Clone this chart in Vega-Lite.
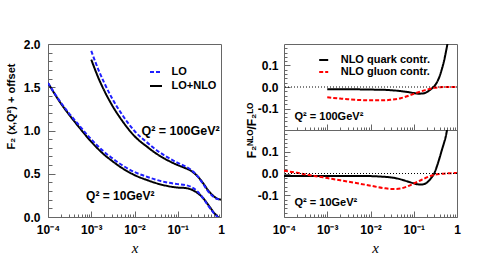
{
  "$schema": "https://vega.github.io/schema/vega-lite/v6.json",
  "padding": {"left": 4, "top": 37, "right": 2, "bottom": 2},
  "config": {
    "view": {"stroke": "#666", "strokeWidth": 1},
    "font": "Liberation Sans",
    "axis": {"grid": false, "domain": false, "labelFont": "Liberation Sans", "labelFontWeight": "bold", "labelFontSize": 12, "labelColor": "black", "tickColor": "#666", "titleFont": "Liberation Sans", "titleFontWeight": "bold", "titleFontSize": 12, "titleColor": "black", "labelOverlap": false, "labelFlush": false},
    "legend": {"padding": 0, "titlePadding": 0}
  },
  "datasets": {
    "f2": [
      {"x": 0.0001, "F": 1.55, "type": "LO+NLO", "q2": "10"},
      {"x": 0.0002, "F": 1.31, "type": "LO+NLO", "q2": "10"},
      {"x": 0.0003, "F": 1.19, "type": "LO+NLO", "q2": "10"},
      {"x": 0.0005, "F": 1.05, "type": "LO+NLO", "q2": "10"},
      {"x": 0.001, "F": 0.87, "type": "LO+NLO", "q2": "10"},
      {"x": 0.002, "F": 0.72, "type": "LO+NLO", "q2": "10"},
      {"x": 0.003, "F": 0.65, "type": "LO+NLO", "q2": "10"},
      {"x": 0.005, "F": 0.57, "type": "LO+NLO", "q2": "10"},
      {"x": 0.01, "F": 0.485, "type": "LO+NLO", "q2": "10"},
      {"x": 0.02, "F": 0.425, "type": "LO+NLO", "q2": "10"},
      {"x": 0.03, "F": 0.395, "type": "LO+NLO", "q2": "10"},
      {"x": 0.05, "F": 0.365, "type": "LO+NLO", "q2": "10"},
      {"x": 0.1, "F": 0.34, "type": "LO+NLO", "q2": "10"},
      {"x": 0.15, "F": 0.335, "type": "LO+NLO", "q2": "10"},
      {"x": 0.2, "F": 0.32, "type": "LO+NLO", "q2": "10"},
      {"x": 0.3, "F": 0.27, "type": "LO+NLO", "q2": "10"},
      {"x": 0.4, "F": 0.21, "type": "LO+NLO", "q2": "10"},
      {"x": 0.5, "F": 0.145, "type": "LO+NLO", "q2": "10"},
      {"x": 0.6, "F": 0.09, "type": "LO+NLO", "q2": "10"},
      {"x": 0.7, "F": 0.045, "type": "LO+NLO", "q2": "10"},
      {"x": 0.8, "F": 0.015, "type": "LO+NLO", "q2": "10"},
      {"x": 0.9, "F": -0.01, "type": "LO+NLO", "q2": "10"},
      {"x": 1, "F": -0.03, "type": "LO+NLO", "q2": "10"},
      {"x": 0.0001, "F": 1.55, "type": "LO", "q2": "10"},
      {"x": 0.0002, "F": 1.32, "type": "LO", "q2": "10"},
      {"x": 0.0003, "F": 1.205, "type": "LO", "q2": "10"},
      {"x": 0.0005, "F": 1.072, "type": "LO", "q2": "10"},
      {"x": 0.001, "F": 0.898, "type": "LO", "q2": "10"},
      {"x": 0.002, "F": 0.752, "type": "LO", "q2": "10"},
      {"x": 0.003, "F": 0.683, "type": "LO", "q2": "10"},
      {"x": 0.005, "F": 0.604, "type": "LO", "q2": "10"},
      {"x": 0.01, "F": 0.52, "type": "LO", "q2": "10"},
      {"x": 0.02, "F": 0.463, "type": "LO", "q2": "10"},
      {"x": 0.03, "F": 0.434, "type": "LO", "q2": "10"},
      {"x": 0.05, "F": 0.405, "type": "LO", "q2": "10"},
      {"x": 0.1, "F": 0.38, "type": "LO", "q2": "10"},
      {"x": 0.15, "F": 0.37, "type": "LO", "q2": "10"},
      {"x": 0.2, "F": 0.35, "type": "LO", "q2": "10"},
      {"x": 0.3, "F": 0.285, "type": "LO", "q2": "10"},
      {"x": 0.4, "F": 0.205, "type": "LO", "q2": "10"},
      {"x": 0.5, "F": 0.135, "type": "LO", "q2": "10"},
      {"x": 0.6, "F": 0.08, "type": "LO", "q2": "10"},
      {"x": 0.7, "F": 0.038, "type": "LO", "q2": "10"},
      {"x": 0.8, "F": 0.008, "type": "LO", "q2": "10"},
      {"x": 0.9, "F": -0.015, "type": "LO", "q2": "10"},
      {"x": 1, "F": -0.035, "type": "LO", "q2": "10"},
      {"x": 0.001, "F": 1.82, "type": "LO+NLO", "q2": "100"},
      {"x": 0.0015, "F": 1.595, "type": "LO+NLO", "q2": "100"},
      {"x": 0.002, "F": 1.46, "type": "LO+NLO", "q2": "100"},
      {"x": 0.003, "F": 1.296, "type": "LO+NLO", "q2": "100"},
      {"x": 0.005, "F": 1.124, "type": "LO+NLO", "q2": "100"},
      {"x": 0.01, "F": 0.935, "type": "LO+NLO", "q2": "100"},
      {"x": 0.02, "F": 0.808, "type": "LO+NLO", "q2": "100"},
      {"x": 0.03, "F": 0.742, "type": "LO+NLO", "q2": "100"},
      {"x": 0.05, "F": 0.674, "type": "LO+NLO", "q2": "100"},
      {"x": 0.1, "F": 0.6, "type": "LO+NLO", "q2": "100"},
      {"x": 0.15, "F": 0.565, "type": "LO+NLO", "q2": "100"},
      {"x": 0.2, "F": 0.535, "type": "LO+NLO", "q2": "100"},
      {"x": 0.3, "F": 0.46, "type": "LO+NLO", "q2": "100"},
      {"x": 0.4, "F": 0.38, "type": "LO+NLO", "q2": "100"},
      {"x": 0.5, "F": 0.31, "type": "LO+NLO", "q2": "100"},
      {"x": 0.6, "F": 0.265, "type": "LO+NLO", "q2": "100"},
      {"x": 0.7, "F": 0.235, "type": "LO+NLO", "q2": "100"},
      {"x": 0.8, "F": 0.215, "type": "LO+NLO", "q2": "100"},
      {"x": 0.9, "F": 0.205, "type": "LO+NLO", "q2": "100"},
      {"x": 1, "F": 0.2, "type": "LO+NLO", "q2": "100"},
      {"x": 0.001, "F": 1.92, "type": "LO", "q2": "100"},
      {"x": 0.0015, "F": 1.69, "type": "LO", "q2": "100"},
      {"x": 0.002, "F": 1.55, "type": "LO", "q2": "100"},
      {"x": 0.003, "F": 1.376, "type": "LO", "q2": "100"},
      {"x": 0.005, "F": 1.195, "type": "LO", "q2": "100"},
      {"x": 0.01, "F": 0.994, "type": "LO", "q2": "100"},
      {"x": 0.02, "F": 0.857, "type": "LO", "q2": "100"},
      {"x": 0.03, "F": 0.785, "type": "LO", "q2": "100"},
      {"x": 0.05, "F": 0.71, "type": "LO", "q2": "100"},
      {"x": 0.1, "F": 0.626, "type": "LO", "q2": "100"},
      {"x": 0.15, "F": 0.585, "type": "LO", "q2": "100"},
      {"x": 0.2, "F": 0.548, "type": "LO", "q2": "100"},
      {"x": 0.3, "F": 0.46, "type": "LO", "q2": "100"},
      {"x": 0.4, "F": 0.371, "type": "LO", "q2": "100"},
      {"x": 0.5, "F": 0.298, "type": "LO", "q2": "100"},
      {"x": 0.6, "F": 0.254, "type": "LO", "q2": "100"},
      {"x": 0.7, "F": 0.2265, "type": "LO", "q2": "100"},
      {"x": 0.8, "F": 0.21, "type": "LO", "q2": "100"},
      {"x": 0.9, "F": 0.2035, "type": "LO", "q2": "100"},
      {"x": 1, "F": 0.2, "type": "LO", "q2": "100"}
    ],
    "ratio": [
      {"x": 0.001, "r": -0.011, "c": "NLO quark contr.", "q2": "100"},
      {"x": 0.002, "r": -0.011, "c": "NLO quark contr.", "q2": "100"},
      {"x": 0.005, "r": -0.011, "c": "NLO quark contr.", "q2": "100"},
      {"x": 0.01, "r": -0.012, "c": "NLO quark contr.", "q2": "100"},
      {"x": 0.02, "r": -0.013, "c": "NLO quark contr.", "q2": "100"},
      {"x": 0.03, "r": -0.015, "c": "NLO quark contr.", "q2": "100"},
      {"x": 0.05, "r": -0.019, "c": "NLO quark contr.", "q2": "100"},
      {"x": 0.07, "r": -0.023, "c": "NLO quark contr.", "q2": "100"},
      {"x": 0.1, "r": -0.028, "c": "NLO quark contr.", "q2": "100"},
      {"x": 0.13, "r": -0.031, "c": "NLO quark contr.", "q2": "100"},
      {"x": 0.16, "r": -0.03, "c": "NLO quark contr.", "q2": "100"},
      {"x": 0.2, "r": -0.024, "c": "NLO quark contr.", "q2": "100"},
      {"x": 0.25, "r": -0.01, "c": "NLO quark contr.", "q2": "100"},
      {"x": 0.3, "r": 0.004, "c": "NLO quark contr.", "q2": "100"},
      {"x": 0.35, "r": 0.025, "c": "NLO quark contr.", "q2": "100"},
      {"x": 0.4, "r": 0.052, "c": "NLO quark contr.", "q2": "100"},
      {"x": 0.45, "r": 0.085, "c": "NLO quark contr.", "q2": "100"},
      {"x": 0.5, "r": 0.12, "c": "NLO quark contr.", "q2": "100"},
      {"x": 0.55, "r": 0.16, "c": "NLO quark contr.", "q2": "100"},
      {"x": 0.6, "r": 0.2, "c": "NLO quark contr.", "q2": "100"},
      {"x": 0.65, "r": 0.25, "c": "NLO quark contr.", "q2": "100"},
      {"x": 0.001, "r": -0.048, "c": "NLO gluon contr.", "q2": "100"},
      {"x": 0.002, "r": -0.054, "c": "NLO gluon contr.", "q2": "100"},
      {"x": 0.003, "r": -0.057, "c": "NLO gluon contr.", "q2": "100"},
      {"x": 0.005, "r": -0.06, "c": "NLO gluon contr.", "q2": "100"},
      {"x": 0.01, "r": -0.062, "c": "NLO gluon contr.", "q2": "100"},
      {"x": 0.02, "r": -0.062, "c": "NLO gluon contr.", "q2": "100"},
      {"x": 0.03, "r": -0.059, "c": "NLO gluon contr.", "q2": "100"},
      {"x": 0.05, "r": -0.052, "c": "NLO gluon contr.", "q2": "100"},
      {"x": 0.07, "r": -0.043, "c": "NLO gluon contr.", "q2": "100"},
      {"x": 0.1, "r": -0.032, "c": "NLO gluon contr.", "q2": "100"},
      {"x": 0.15, "r": -0.02, "c": "NLO gluon contr.", "q2": "100"},
      {"x": 0.2, "r": -0.012, "c": "NLO gluon contr.", "q2": "100"},
      {"x": 0.3, "r": -0.004, "c": "NLO gluon contr.", "q2": "100"},
      {"x": 0.4, "r": -0.001, "c": "NLO gluon contr.", "q2": "100"},
      {"x": 0.6, "r": 0.0, "c": "NLO gluon contr.", "q2": "100"},
      {"x": 1, "r": 0.0, "c": "NLO gluon contr.", "q2": "100"},
      {"x": 0.0001, "r": -0.011, "c": "NLO quark contr.", "q2": "10"},
      {"x": 0.001, "r": -0.011, "c": "NLO quark contr.", "q2": "10"},
      {"x": 0.003, "r": -0.011, "c": "NLO quark contr.", "q2": "10"},
      {"x": 0.01, "r": -0.012, "c": "NLO quark contr.", "q2": "10"},
      {"x": 0.02, "r": -0.015, "c": "NLO quark contr.", "q2": "10"},
      {"x": 0.03, "r": -0.018, "c": "NLO quark contr.", "q2": "10"},
      {"x": 0.05, "r": -0.027, "c": "NLO quark contr.", "q2": "10"},
      {"x": 0.07, "r": -0.036, "c": "NLO quark contr.", "q2": "10"},
      {"x": 0.1, "r": -0.045, "c": "NLO quark contr.", "q2": "10"},
      {"x": 0.13, "r": -0.05, "c": "NLO quark contr.", "q2": "10"},
      {"x": 0.16, "r": -0.05, "c": "NLO quark contr.", "q2": "10"},
      {"x": 0.2, "r": -0.042, "c": "NLO quark contr.", "q2": "10"},
      {"x": 0.25, "r": -0.022, "c": "NLO quark contr.", "q2": "10"},
      {"x": 0.3, "r": 0.002, "c": "NLO quark contr.", "q2": "10"},
      {"x": 0.35, "r": 0.038, "c": "NLO quark contr.", "q2": "10"},
      {"x": 0.4, "r": 0.075, "c": "NLO quark contr.", "q2": "10"},
      {"x": 0.45, "r": 0.11, "c": "NLO quark contr.", "q2": "10"},
      {"x": 0.5, "r": 0.14, "c": "NLO quark contr.", "q2": "10"},
      {"x": 0.55, "r": 0.17, "c": "NLO quark contr.", "q2": "10"},
      {"x": 0.6, "r": 0.21, "c": "NLO quark contr.", "q2": "10"},
      {"x": 0.65, "r": 0.25, "c": "NLO quark contr.", "q2": "10"},
      {"x": 0.0001, "r": 0.013, "c": "NLO gluon contr.", "q2": "10"},
      {"x": 0.0002, "r": 0.003, "c": "NLO gluon contr.", "q2": "10"},
      {"x": 0.0003, "r": -0.003, "c": "NLO gluon contr.", "q2": "10"},
      {"x": 0.0005, "r": -0.011, "c": "NLO gluon contr.", "q2": "10"},
      {"x": 0.001, "r": -0.021, "c": "NLO gluon contr.", "q2": "10"},
      {"x": 0.002, "r": -0.031, "c": "NLO gluon contr.", "q2": "10"},
      {"x": 0.003, "r": -0.037, "c": "NLO gluon contr.", "q2": "10"},
      {"x": 0.005, "r": -0.045, "c": "NLO gluon contr.", "q2": "10"},
      {"x": 0.01, "r": -0.056, "c": "NLO gluon contr.", "q2": "10"},
      {"x": 0.02, "r": -0.067, "c": "NLO gluon contr.", "q2": "10"},
      {"x": 0.03, "r": -0.071, "c": "NLO gluon contr.", "q2": "10"},
      {"x": 0.04, "r": -0.071, "c": "NLO gluon contr.", "q2": "10"},
      {"x": 0.05, "r": -0.069, "c": "NLO gluon contr.", "q2": "10"},
      {"x": 0.07, "r": -0.06, "c": "NLO gluon contr.", "q2": "10"},
      {"x": 0.1, "r": -0.046, "c": "NLO gluon contr.", "q2": "10"},
      {"x": 0.15, "r": -0.03, "c": "NLO gluon contr.", "q2": "10"},
      {"x": 0.2, "r": -0.018, "c": "NLO gluon contr.", "q2": "10"},
      {"x": 0.3, "r": -0.006, "c": "NLO gluon contr.", "q2": "10"},
      {"x": 0.4, "r": -0.002, "c": "NLO gluon contr.", "q2": "10"},
      {"x": 0.6, "r": 0.001, "c": "NLO gluon contr.", "q2": "10"},
      {"x": 1, "r": 0.002, "c": "NLO gluon contr.", "q2": "10"}
    ]
  },
  "hconcat": [
    {
      "width": 173,
      "height": 173,
      "resolve": {"axis": {"x": "independent", "y": "independent"}},
      "layer": [
        {
          "data": {"name": "f2"},
          "mark": {"type": "line", "strokeWidth": 2, "clip": true, "interpolate": "monotone"},
          "encoding": {
            "x": {"field": "x", "type": "quantitative", "scale": {"type": "log", "domain": [0.0001, 1]},
              "axis": {"orient": "bottom", "values": [0.0001, 0.001, 0.01, 0.1, 1],
                "labelExpr": "datum.value==1?'1':datum.value==0.1?'10⁻¹':datum.value==0.01?'10⁻²':datum.value==0.001?'10⁻³':'10⁻⁴'",
                "labelOverlap": false, "tickSize": -6, "labelPadding": 13,
                "title": "x", "titleFont": "Liberation Serif", "titleFontStyle": "italic", "titleFontWeight": "normal", "titleFontSize": 15, "titlePadding": 5}},
            "y": {"field": "F", "type": "quantitative", "scale": {"domain": [0, 2]},
              "axis": {"orient": "left", "values": [0, 0.5, 1, 1.5, 2], "format": ".1f",
                "labelOverlap": false, "tickSize": -7, "labelPadding": 15,
                "title": "F₂ (x,Q²) + offset", "titleFontSize": 11, "titleX": -32, "titleY": 62}},
            "color": {"field": "type", "type": "nominal", "scale": {"domain": ["LO", "LO+NLO"], "range": ["#1f1fff", "#000000"]},
              "legend": {"orient": "none", "legendX": 99.5, "legendY": 19.5, "title": null, "symbolType": "M-0.8,0H0.8", "symbolSize": 225, "symbolStrokeWidth": 2, "labelFontWeight": "bold", "labelFontSize": 11, "labelFont": "Liberation Sans", "rowPadding": 0, "labelOffset": 7}},
            "strokeDash": {"field": "type", "type": "nominal", "scale": {"domain": ["LO", "LO+NLO"], "range": [[4, 2], [1, 0]]},
              "legend": {"orient": "none", "legendX": 99.5, "legendY": 19.5, "title": null, "symbolType": "M-0.8,0H0.8", "symbolSize": 225, "symbolStrokeWidth": 2, "labelFontWeight": "bold", "labelFontSize": 11, "labelFont": "Liberation Sans", "rowPadding": 0, "labelOffset": 7}},
            "detail": {"field": "q2", "type": "nominal"}
          }
        },
        {
          "data": {"values": [{}]},
          "mark": {"type": "text", "align": "right", "baseline": "middle", "fontWeight": "bold", "fontSize": 12.5},
          "encoding": {
            "x": {"datum": 0.93, "type": "quantitative", "axis": {"orient": "bottom", "values": [0.0002,0.0003,0.0004,0.0005,0.0006,0.0007,0.0008,0.0009,0.002,0.003,0.004,0.005,0.006,0.007,0.008,0.009,0.02,0.03,0.04,0.05,0.06,0.07,0.08,0.09,0.2,0.3,0.4,0.5,0.6,0.7,0.8,0.9], "labels": false, "title": null, "tickSize": -3}},
            "y": {"datum": 0.99, "type": "quantitative", "axis": {"orient": "left", "values": [0.1,0.2,0.3,0.4,0.6,0.7,0.8,0.9,1.1,1.2,1.3,1.4,1.6,1.7,1.8,1.9], "labels": false, "title": null, "tickSize": -4}},
            "text": {"value": "Q² = 100GeV²"}}
        },
        {
          "data": {"values": [{}]},
          "mark": {"type": "text", "align": "left", "baseline": "middle", "fontWeight": "bold", "fontSize": 12},
          "encoding": {"x": {"datum": 0.00076, "type": "quantitative", "axis": null}, "y": {"datum": 0.24, "type": "quantitative", "axis": null}, "text": {"value": "Q² = 10GeV²"}}
        }
      ]
    },
    {
      "spacing": 0,
      "bounds": "flush",
      "vconcat": [
        {
          "width": 173,
          "height": 86,
          "resolve": {"axis": {"x": "independent", "y": "independent"}},
          "layer": [
            {
              "data": {"name": "ratio"},
              "transform": [{"filter": "datum.q2 == '100'"}],
              "mark": {"type": "line", "strokeWidth": 2, "clip": true, "interpolate": "monotone"},
              "encoding": {
                "x": {"field": "x", "type": "quantitative", "scale": {"type": "log", "domain": [0.0001, 1]},
                  "axis": {"orient": "bottom", "values": [0.0001, 0.001, 0.01, 0.1, 1], "labels": false, "title": null, "tickSize": -6}},
                "y": {"field": "r", "type": "quantitative", "scale": {"domain": [-0.2, 0.2]},
                  "axis": {"orient": "left", "values": [-0.1, 0, 0.1],
                    "labelExpr": "datum.value > 0.05 ? '0.1' : datum.value < -0.05 ? '-0.1' : '0.0'",
                    "labelOverlap": false, "tickSize": -6, "labelPadding": 12,
                    "title": "F₂ᴺᴸᴼ/F₂ᴸᴼ", "titleX": -26, "titleY": 86}},
                "color": {"field": "c", "type": "nominal", "scale": {"domain": ["NLO quark contr.", "NLO gluon contr."], "range": ["#000000", "#ff0000"]},
                  "legend": {"orient": "none", "legendX": 32.7, "legendY": 9, "title": null, "symbolType": "M-0.75,0H0.75", "symbolSize": 144, "symbolStrokeWidth": 2, "labelFontWeight": "bold", "labelFontSize": 11, "labelFont": "Liberation Sans", "rowPadding": 0, "labelOffset": 10}},
                "strokeDash": {"field": "c", "type": "nominal", "scale": {"domain": ["NLO quark contr.", "NLO gluon contr."], "range": [[1, 0], [4, 2]]},
                  "legend": {"orient": "none", "legendX": 32.7, "legendY": 9, "title": null, "symbolType": "M-0.75,0H0.75", "symbolSize": 144, "symbolStrokeWidth": 2, "labelFontWeight": "bold", "labelFontSize": 11, "labelFont": "Liberation Sans", "rowPadding": 0, "labelOffset": 10}}
              }
            },
            {
              "data": {"values": [{}]},
              "mark": {"type": "rule", "strokeDash": [1, 2], "color": "black", "strokeWidth": 1},
              "encoding": {"y": {"datum": 0, "type": "quantitative", "axis": null}}
            },
            {
              "data": {"values": [{}]},
              "mark": {"type": "text", "align": "left", "baseline": "middle", "fontWeight": "bold", "fontSize": 11},
              "encoding": {
                "x": {"datum": 0.000175, "type": "quantitative", "axis": {"orient": "bottom", "values": [0.0002,0.0003,0.0004,0.0005,0.0006,0.0007,0.0008,0.0009,0.002,0.003,0.004,0.005,0.006,0.007,0.008,0.009,0.02,0.03,0.04,0.05,0.06,0.07,0.08,0.09,0.2,0.3,0.4,0.5,0.6,0.7,0.8,0.9], "labels": false, "title": null, "tickSize": -3}},
                "y": {"datum": -0.138, "type": "quantitative", "axis": {"orient": "left", "values": [-0.18,-0.16,-0.14,-0.12,-0.08,-0.06,-0.04,-0.02,0.02,0.04,0.06,0.08,0.12,0.14,0.16,0.18], "labels": false, "title": null, "tickSize": -3}},
                "text": {"value": "Q² = 100GeV²"}}
            }
          ]
        },
        {
          "width": 173,
          "height": 87,
          "resolve": {"axis": {"x": "independent", "y": "independent"}},
          "layer": [
            {
              "data": {"name": "ratio"},
              "transform": [{"filter": "datum.q2 == '10'"}],
              "mark": {"type": "line", "strokeWidth": 2, "clip": true, "interpolate": "monotone"},
              "encoding": {
                "x": {"field": "x", "type": "quantitative", "scale": {"type": "log", "domain": [0.0001, 1]},
                  "axis": {"orient": "bottom", "values": [0.0001, 0.001, 0.01, 0.1, 1],
                    "labelExpr": "datum.value==1?'1':datum.value==0.1?'10⁻¹':datum.value==0.01?'10⁻²':datum.value==0.001?'10⁻³':'10⁻⁴'",
                    "labelOverlap": false, "tickSize": -6, "labelPadding": 13,
                    "title": "x", "titleFont": "Liberation Serif", "titleFontStyle": "italic", "titleFontWeight": "normal", "titleFontSize": 15, "titlePadding": 5, "titleX": 91}},
                "y": {"field": "r", "type": "quantitative", "scale": {"domain": [-0.2, 0.2]},
                  "axis": {"orient": "left", "values": [-0.1, 0, 0.1],
                    "labelExpr": "datum.value > 0.05 ? '0.1' : datum.value < -0.05 ? '-0.1' : '0.0'",
                    "labelOverlap": false, "tickSize": -6, "labelPadding": 12,
                    "title": null}},
                "color": {"field": "c", "type": "nominal", "scale": {"domain": ["NLO quark contr.", "NLO gluon contr."], "range": ["#000000", "#ff0000"]}, "legend": null},
                "strokeDash": {"field": "c", "type": "nominal", "scale": {"domain": ["NLO quark contr.", "NLO gluon contr."], "range": [[1, 0], [4, 2]]}, "legend": null}
              }
            },
            {
              "data": {"values": [{}]},
              "mark": {"type": "rule", "strokeDash": [1, 2], "color": "black", "strokeWidth": 1},
              "encoding": {"y": {"datum": 0, "type": "quantitative", "axis": null}}
            },
            {
              "data": {"values": [{}]},
              "mark": {"type": "text", "align": "left", "baseline": "middle", "fontWeight": "bold", "fontSize": 11},
              "encoding": {
                "x": {"datum": 0.000175, "type": "quantitative", "axis": {"orient": "bottom", "values": [0.0002,0.0003,0.0004,0.0005,0.0006,0.0007,0.0008,0.0009,0.002,0.003,0.004,0.005,0.006,0.007,0.008,0.009,0.02,0.03,0.04,0.05,0.06,0.07,0.08,0.09,0.2,0.3,0.4,0.5,0.6,0.7,0.8,0.9], "labels": false, "title": null, "tickSize": -3}},
                "y": {"datum": -0.135, "type": "quantitative", "axis": {"orient": "left", "values": [-0.18,-0.16,-0.14,-0.12,-0.08,-0.06,-0.04,-0.02,0.02,0.04,0.06,0.08,0.12,0.14,0.16,0.18], "labels": false, "title": null, "tickSize": -3}},
                "text": {"value": "Q² = 10GeV²"}}
            }
          ]
        }
      ],
      "resolve": {"scale": {"x": "independent", "y": "independent"}}
    }
  ],
  "spacing": 63,
  "bounds": "flush",
  "resolve": {"scale": {"color": "independent", "strokeDash": "independent"}, "legend": {"color": "independent", "strokeDash": "independent"}}
}
